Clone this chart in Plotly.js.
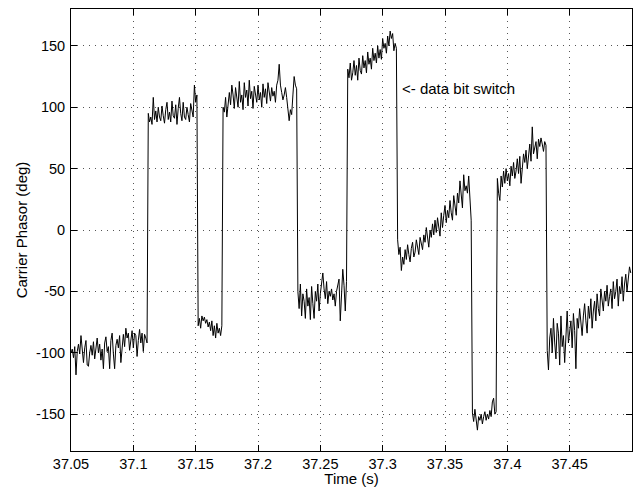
<!DOCTYPE html>
<html>
<head>
<meta charset="utf-8">
<script src="https://cdn.plot.ly/plotly-3.0.1.min.js"></script>
<style>html,body{margin:0;padding:0;background:#fff;}#chart{width:636px;height:487px;}</style>
</head>
<body>
<div id="chart"></div>
<script>
// Sampling of the carrier phasor trace (seconds)
var startTime = 37.05;
var sampleStep = 0.001;

// Carrier phase (deg), one array per data-bit segment
var segA = [-100, -97, -104, -95, -118, -99, -93, -101, -86, -97,
  -108, -96, -90, -110, -111, -100, -94, -102, -91, -105,
  -96, -88, -100, -93, -106, -97, -113, -92, -87, -99,
  -95, -113, -90, -84, -101, -113, -94, -89, -96, -86,
  -108, -93, -85, -95, -80, -88, -84, -98, -87, -82,
  -96, -84, -86, -103, -90, -81, -92, -84, -99, -85,
  -88, -92];
var segB = [95, 88, 92, 86, 108, 90, 97, 88, 100, 92,
  89, 101, 93, 87, 98, 104, 90, 96, 88, 105,
  93, 91, 102, 86, 99, 108, 95, 89, 104, 92,
  90, 100, 94, 88, 103, 96, 92, 118, 104, 110];
var segC = [-78, -72, -80, -70, -74, -71, -76, -73, -79, -75,
  -82, -74, -86, -78, -88, -76, -84, -80, -86, -78];
var segD = [100, 96, 108, 92, 104, 112, 102, 118, 110, 99,
  116, 106, 100, 121, 104, 110, 98, 120, 108, 114,
  101, 122, 107, 113, 99, 117, 110, 104, 118, 106,
  112, 100, 119, 108, 115, 103, 120, 111, 105, 116,
  109, 113, 104, 118, 122, 135, 118, 112, 106, 110,
  116, 108, 100, 89, 98, 94, 110, 125, 118, 115];
var segE = [-50, -64, -44, -70, -52, -58, -72, -48, -62, -55,
  -73, -46, -60, -72, -50, -58, -44, -66, -52, -40,
  -35, -48, -56, -42, -60, -50, -54, -48, -57, -52,
  -62, -50, -46, -40, -74, -50, -32, -45, -66, -42];
var segF = [131, 124, 136, 122, 128, 138, 126, 134, 122, 140,
  130, 127, 142, 132, 138, 128, 145, 135, 140, 131,
  148, 138, 144, 136, 150, 140, 147, 139, 156, 148,
  152, 144, 158, 150, 162, 156, 160, 146, 152, 148];
var segG = [-8, -20, -14, -33, -22, -28, -16, -24, -12, -20,
  -26, -15, -10, -22, -18, -8, -14, -20, -6, -12,
  -16, -4, -10, 2, -8, -14, 0, -6, 5, -4,
  8, -2, 10, 4, -5, 14, 2, 12, 20, 6,
  16, 10, 24, 14, 8, 28, 18, 12, 30, 22,
  40, 26, 18, 45, 32, 36, 30, 44, 20, 8];
var segH = [-149, -156, -146, -158, -163, -152, -155, -150, -158, -152,
  -148, -155, -150, -154, -147, -152, -140, -137, -150, -148];
var segI = [42, 30, 24, 44, 35, 48, 38, 50, 40, 46,
  36, 52, 44, 55, 42, 48, 58, 46, 60, 38,
  52, 62, 55, 65, 50, 60, 70, 56, 84, 62,
  66, 72, 58, 74, 68, 75, 70, 64, 72, 69];
var segJ = [-98, -114, -88, -80, -100, -72, -92, -105, -76, -84,
  -110, -70, -95, -86, -108, -78, -66, -92, -80, -74,
  -96, -68, -82, -113, -72, -80, -64, -76, -86, -70,
  -60, -74, -84, -62, -72, -56, -80, -66, -58, -74,
  -52, -64, -70, -48, -60, -66, -50, -58, -45, -62,
  -54, -48, -64, -42, -56, -50, -40, -62, -46, -52,
  -38, -58, -44, -36, -50, -40, -30, -35];

var xTickVals = [37.05, 37.1, 37.15, 37.2, 37.25, 37.3, 37.35, 37.4, 37.45];
var xTickText = ['37.05', '37.1', '37.15', '37.2', '37.25', '37.3', '37.35', '37.4', '37.45'];
var yTickVals = [-150, -100, -50, 0, 50, 100, 150];
var yTickText = ['-150', '-100', '-50', '0', '50', '100', '150'];

var noteText = '<- data bit switch';
var noteX = 37.3136;
var noteY = 115;

var phase = [].concat(segA, segB, segC, segD, segE, segF, segG, segH, segI, segJ);
var time = phase.map(function (_, i) { return +(startTime + i * sampleStep).toFixed(4); });

var font = 'Liberation Sans, Arial, Helvetica, sans-serif';

var trace = {
  x: time, y: phase, type: 'scatter', mode: 'lines',
  line: {color: '#000', width: 1}, hoverinfo: 'skip'
};

var axisCommon = {
  showline: true, linecolor: '#000', linewidth: 1, mirror: 'allticks',
  ticks: 'inside', ticklen: 6, tickcolor: '#000', tickwidth: 1,
  showgrid: true, gridcolor: '#555', griddash: '1px,5px', gridwidth: 1,
  zeroline: false, tickfont: {family: font, size: 14.5, color: '#000'},
  tickmode: 'array'
};

var layout = {
  width: 636, height: 487,
  margin: {l: 71, r: 4, t: 9, b: 36},
  paper_bgcolor: '#fff', plot_bgcolor: '#fff',
  showlegend: false,
  xaxis: Object.assign({}, axisCommon, {
    range: [37.05, 37.5], tickvals: xTickVals, ticktext: xTickText,
    title: {text: 'Time (s)', font: {family: font, size: 15, color: '#000'}, standoff: 2}
  }),
  yaxis: Object.assign({}, axisCommon, {
    range: [-180, 180], tickvals: yTickVals, ticktext: yTickText,
    ticklabelstandoff: 2,
    title: {text: 'Carrier Phasor (deg)', font: {family: font, size: 15, color: '#000'}, standoff: 4}
  }),
  annotations: [{
    x: noteX, y: noteY, xref: 'x', yref: 'y', text: noteText, showarrow: false,
    xanchor: 'left', yanchor: 'middle', font: {family: font, size: 15, color: '#000'}
  }]
};

Plotly.newPlot('chart', [trace], layout, {staticPlot: true, displayModeBar: false});
</script>
</body>
</html>
